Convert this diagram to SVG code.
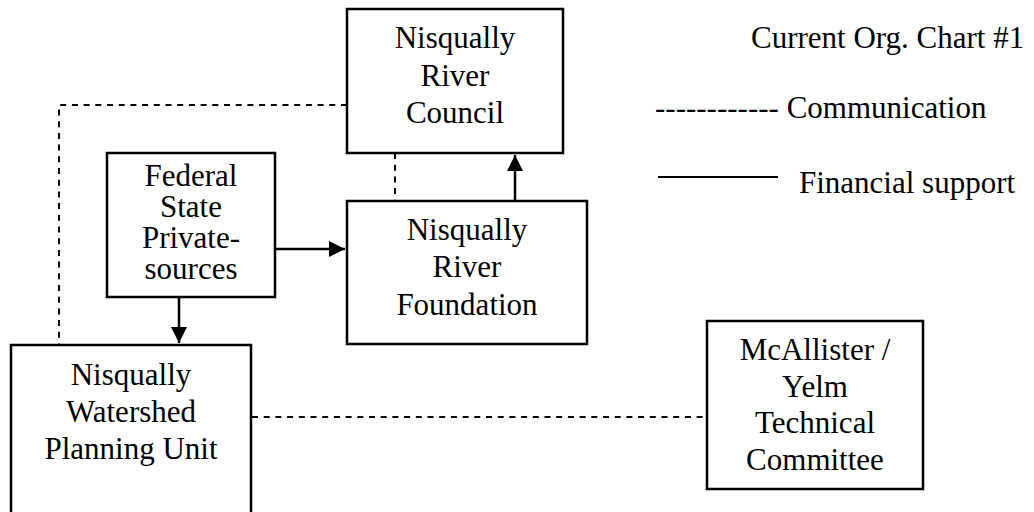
<svg xmlns="http://www.w3.org/2000/svg" width="1034" height="512" viewBox="0 0 1034 512">
<style>
.box{fill:#fff;stroke:#000;stroke-width:2.5}
.t{font-family:"Liberation Serif","Times New Roman",serif;font-size:31px;fill:#000;text-anchor:middle}
.tl{font-family:"Liberation Serif","Times New Roman",serif;font-size:31px;fill:#000}
.dash{fill:none;stroke:#000;stroke-width:2;stroke-dasharray:6 5.7}
.solid{fill:none;stroke:#000;stroke-width:2.5}
</style>
<defs>
<marker id="ah" viewBox="0 0 10 10" refX="10" refY="5" markerWidth="6.5" markerHeight="6.5" markerUnits="strokeWidth" orient="auto">
<path d="M0,0 L10,5 L0,10 Z" fill="#000"/>
</marker>
</defs>
<rect width="1034" height="512" fill="#fff"/>
<g id="connectors">
<path class="dash" d="M347,105 H59 V345"/>
<path class="dash" d="M395,153 V201"/>
<path class="dash" d="M252,417 H707"/>
<path class="solid" d="M515,201 V155" marker-end="url(#ah)"/>
<path class="solid" d="M275,249 H345" marker-end="url(#ah)"/>
<path class="solid" d="M179,297 V343" marker-end="url(#ah)"/>
</g>
<g id="council">
<rect class="box" x="347" y="9" width="216" height="144"/>
<text class="t" x="455" y="48">Nisqually</text>
<text class="t" x="455" y="86">River</text>
<text class="t" x="455" y="123">Council</text>
</g>
<g id="federal">
<rect class="box" x="107" y="153" width="168" height="144"/>
<text class="t" x="191" y="186">Federal</text>
<text class="t" x="191" y="217">State</text>
<text class="t" x="191" y="248">Private-</text>
<text class="t" x="191" y="279">sources</text>
</g>
<g id="foundation">
<rect class="box" x="347" y="201" width="240" height="143"/>
<text class="t" x="467" y="240">Nisqually</text>
<text class="t" x="467" y="277">River</text>
<text class="t" x="467" y="315">Foundation</text>
</g>
<g id="planning">
<rect class="box" x="11" y="345" width="240" height="175"/>
<text class="t" x="131" y="385">Nisqually</text>
<text class="t" x="131" y="422">Watershed</text>
<text class="t" x="131" y="459">Planning Unit</text>
</g>
<g id="mcallister">
<rect class="box" x="707" y="321" width="216" height="168"/>
<text class="t" x="815" y="360">McAllister /</text>
<text class="t" x="815" y="397">Yelm</text>
<text class="t" x="815" y="433">Technical</text>
<text class="t" x="815" y="470">Committee</text>
</g>
<g id="legend">
<text class="tl" x="751" y="48">Current Org. Chart #1</text>
<text class="tl" x="655" y="118">------------ Communication</text>
<line x1="658" y1="177" x2="778" y2="177" stroke="#000" stroke-width="2"/>
<text class="tl" x="799" y="193">Financial support</text>
</g>
</svg>
